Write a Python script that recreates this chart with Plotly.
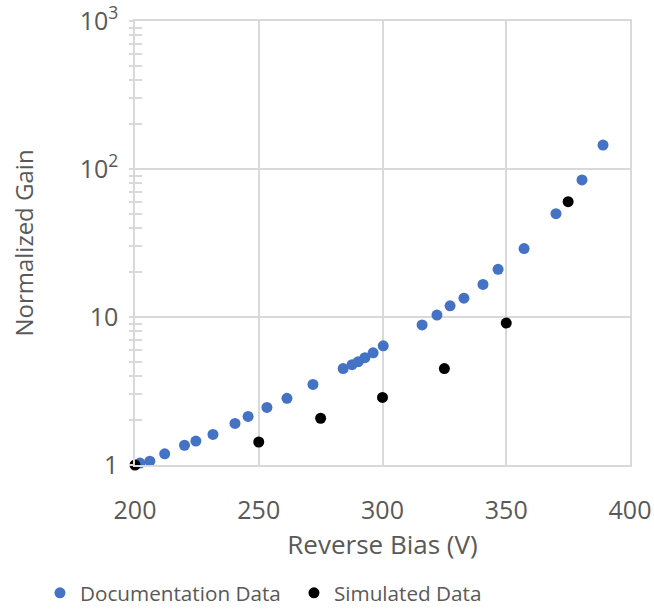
import plotly.graph_objects as go

# Reverse bias (V) and normalized gain for the documented curve
doc_bias = [202, 206, 212, 220, 224.6, 231.5, 240.4, 245.7, 253.3, 261.4, 271.9,
            284.1, 287.7, 290.2, 292.9, 296.2, 300.3, 316, 322, 327.3, 332.9,
            340.6, 346.7, 357.2, 370.1, 380.6, 389.1]
doc_gain = [1.03, 1.06, 1.19, 1.36, 1.45, 1.61, 1.91, 2.13, 2.45, 2.82, 3.50,
            4.48, 4.76, 4.99, 5.31, 5.73, 6.39, 8.84, 10.3, 11.9, 13.4,
            16.6, 21.0, 29.0, 49.9, 84.4, 145]

# Simulated points
sim_bias = [200, 250, 275, 300, 325, 350, 375]
sim_gain = [1.0, 1.43, 2.07, 2.86, 4.48, 9.1, 60.1]

# Axis ticks
x_ticks = [200, 250, 300, 350, 400]
y_ticks = [1, 10, 100, 1000]
y_tick_text = ["1", "10", "10<sup>2</sup>", "10<sup>3</sup>"]

FONT = "Open Sans"
GREY = "#595959"
GRID = "#d9d9d9"

fig = go.Figure()
fig.add_trace(go.Scatter(
    x=doc_bias, y=doc_gain, mode="markers", name="Documentation Data",
    marker=dict(color="#4472C4", size=11), cliponaxis=False,
))
fig.add_trace(go.Scatter(
    x=sim_bias, y=sim_gain, mode="markers", name="Simulated Data",
    marker=dict(color="#000000", size=11), cliponaxis=False,
))

fig.update_layout(
    width=654, height=611,
    margin=dict(l=135, r=24, t=21, b=146, autoexpand=False),
    paper_bgcolor="white", plot_bgcolor="white",
    font=dict(family=FONT, size=21, color=GREY),
    showlegend=True,
    legend=dict(
        orientation="h", x=-0.192, xanchor="left", y=-0.288, yanchor="middle",
        font=dict(family=FONT, size=20.7, color=GREY),
        entrywidth=209, entrywidthmode="pixels",
        bgcolor="rgba(0,0,0,0)",
    ),
    xaxis=dict(
        range=[200, 400], tickvals=x_ticks, showgrid=True, gridcolor=GRID,
        gridwidth=1.5, zeroline=False,
        showline=True, mirror=True, linecolor=GRID, linewidth=1.5, ticks="",
        automargin=False, ticklabelstandoff=22,
        title=dict(text="Reverse Bias (V)", standoff=8,
                   font=dict(family=FONT, size=26, color=GREY)),
        tickfont=dict(family=FONT, size=25, color=GREY),
    ),
    yaxis=dict(
        type="log", range=[0, 3], tickvals=y_ticks, ticktext=y_tick_text,
        showgrid=True, gridcolor=GRID, gridwidth=1.5, zeroline=False,
        showline=True, mirror=True, linecolor=GRID, linewidth=1.5,
        ticks="outside", ticklen=4, tickcolor=GRID, tickwidth=1.5,
        minor=dict(ticks="outside", ticklen=4, tickcolor=GRID, tickwidth=1.5,
                   dtick="D1", showgrid=False),
        automargin=False, ticklabelstandoff=6, ticklabeloverflow="allow",
        title=dict(text="Normalized Gain", standoff=39,
                   font=dict(family=FONT, size=24, color=GREY)),
        tickfont=dict(family=FONT, size=25, color=GREY),
    ),
    yaxis2=dict(
        type="log", range=[0, 3], overlaying="y", side="left",
        tickvals=y_ticks, showticklabels=False, showgrid=False, zeroline=False,
        ticks="inside", ticklen=7, tickcolor=GRID, tickwidth=1.5,
        minor=dict(ticks="inside", ticklen=7, tickcolor=GRID, tickwidth=1.5,
                   dtick="D1", showgrid=False),
        automargin=False,
    ),
)
# invisible trace so the inner tick axis is drawn
fig.add_trace(go.Scatter(x=[None], y=[None], yaxis="y2", showlegend=False,
                         hoverinfo="skip"))

fig.write_html("out.html")
